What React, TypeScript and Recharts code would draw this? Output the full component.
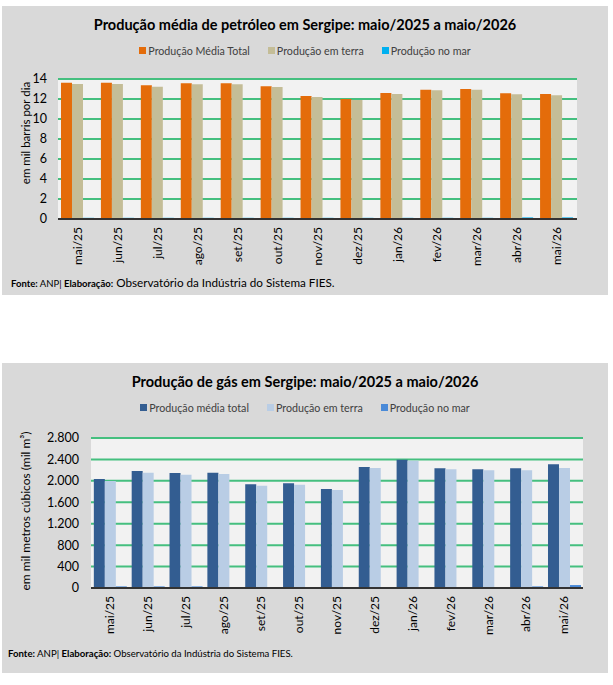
import React from "react";
import { BarChart, Bar, XAxis, YAxis, CartesianGrid, Legend } from "recharts";

const months = ["mai/25", "jun/25", "jul/25", "ago/25", "set/25", "out/25", "nov/25", "dez/25", "jan/26", "fev/26", "mar/26", "abr/26", "mai/26"];

// petróleo (mil barris por dia)
const oilTotal = [13.63, 13.63, 13.37, 13.57, 13.57, 13.27, 12.3, 12.0, 12.6, 12.93, 13.0, 12.57, 12.5];
const oilLand = [13.5, 13.5, 13.23, 13.47, 13.47, 13.2, 12.2, 11.9, 12.5, 12.87, 12.93, 12.47, 12.37];
const oilSea = [0.12, 0.12, 0.12, 0.12, 0.12, 0.12, 0.12, 0.12, 0.12, 0.12, 0.12, 0.16, 0.16];
const oilTicks = [0, 2, 4, 6, 8, 10, 12, 14];

// gás (mil m³)
const gasTotal = [2035, 2184, 2147, 2153, 1935, 1954, 1848, 2259, 2395, 2234, 2215, 2234, 2308];
const gasLand = [1997, 2153, 2116, 2128, 1910, 1929, 1829, 2240, 2377, 2215, 2196, 2196, 2240];
const gasSea = [30, 30, 30, 10, 10, 10, 10, 10, 10, 10, 10, 30, 55];
const gasTicks = [0, 400, 800, 1200, 1600, 2000, 2400, 2800];

const oilData = months.map((m, i) => ({ m, total: oilTotal[i], terra: oilLand[i], mar: oilSea[i] }));
const gasData = months.map((m, i) => ({ m, total: gasTotal[i], terra: gasLand[i], mar: gasSea[i] }));

const FONT = "Lato, 'Open Sans', sans-serif";
const GRID = "#45BF7F";
const PANEL = "#D9D9D9";

const fmt = (v: number) => String(v).replace(/\B(?=(\d{3})+(?!\d))/g, ".");

const MonthTick = ({ x, y, payload }: any) => (
  <text
    x={x}
    y={y}
    transform={`rotate(-90 ${x} ${y})`}
    textAnchor="end"
    dy="0.35em"
    fontSize={12}
    fill="#000"
    fontFamily={FONT}
  >
    {payload.value}
  </text>
);

const legendContent = (props: any) => (
  <div style={{ display: "flex", justifyContent: "center", fontFamily: FONT, fontSize: 10.7, color: "#404040" }}>
    {props.payload.map((p: any, i: number) => (
      <span key={i} style={{ display: "flex", alignItems: "center", marginLeft: i ? 18 : 0 }}>
        <span style={{ width: 7, height: 7, background: p.color, marginRight: 2, display: "inline-block" }} />
        {p.value}
      </span>
    ))}
  </div>
);

const Title = ({ text, top }: { text: string; top: number }) => (
  <div
    style={{
      position: "absolute",
      left: 0,
      width: "100%",
      top,
      textAlign: "center",
      fontFamily: FONT,
      fontWeight: 700,
      fontSize: 14.5,
      color: "#000",
      zIndex: 2,
    }}
  >
    {text}
  </div>
);

export default function App() {
  return (
    <div style={{ position: "absolute", left: 0, top: 0, width: 613, height: 685, background: "#fff" }}>
      {/* petróleo */}
      <div style={{ position: "absolute", left: 2, top: 6, width: 606, height: 289, background: PANEL }}>
        <Title text="Produção média de petróleo em Sergipe: maio/2025 a maio/2026" top={10} />
        <BarChart
          width={606}
          height={289}
          data={oilData}
          margin={{ top: 73, right: 31, left: 16, bottom: 26 }}
          barCategoryGap="7.5%"
          barGap={0}
        >
          <CartesianGrid vertical={false} stroke={GRID} strokeWidth={2} fill="#F2F2F2" />
          <XAxis
            dataKey="m"
            interval={0}
            height={50}
            tick={<MonthTick />}
            tickLine={false}
            axisLine={{ stroke: "#333", strokeWidth: 2 }}
          />
          <YAxis
            width={40}
            domain={[0, 14]}
            ticks={oilTicks}
            interval={0}
            axisLine={false}
            tickLine={false}
            tickMargin={5}
            tick={{ fontSize: 12.5, fill: "#000", fontFamily: FONT }}
            label={{
              content: () => (
                <text
                  x={23}
                  y={127}
                  transform="rotate(-90 23 127)"
                  textAnchor="middle"
                  dominantBaseline="central"
                  fontSize={11.5}
                  fontFamily={FONT}
                  fill="#000"
                >
                  em mil barris por dia
                </text>
              ),
            }}
          />
          <Legend
            verticalAlign="middle"
            align="center"
            itemSorter={null as any}
            content={legendContent}
            wrapperStyle={{ top: 38, left: 0, width: 606 }}
          />
          <Bar dataKey="total" name="Produção Média Total" fill="#E46C0A" isAnimationActive={false} />
          <Bar dataKey="terra" name="Produção em terra" fill="#C4BD97" isAnimationActive={false} />
          <Bar dataKey="mar" name="Produção no mar" fill="#00B0F0" isAnimationActive={false} />
        </BarChart>
        <div style={{ position: "absolute", left: 9, top: 265, fontFamily: FONT, color: "#000", whiteSpace: "nowrap" }}>
          <b style={{ fontSize: 9.5 }}>Fonte:</b>
          <span style={{ fontSize: 9.5 }}> ANP| </span>
          <b style={{ fontSize: 9.5 }}>Elaboração:</b>
          <span style={{ fontSize: 11.7 }}> Observatório da Indústria do Sistema FIES.</span>
        </div>
      </div>

      {/* gás */}
      <div style={{ position: "absolute", left: 2, top: 363, width: 606, height: 310, background: PANEL }}>
        <Title text="Produção de gás em Sergipe: maio/2025 a maio/2026" top={10} />
        <BarChart
          width={606}
          height={310}
          data={gasData}
          margin={{ top: 75, right: 25, left: 30, bottom: 35 }}
          barCategoryGap="7.5%"
          barGap={0}
        >
          <CartesianGrid vertical={false} stroke={GRID} strokeWidth={2} fill="#F2F2F2" />
          <XAxis
            dataKey="m"
            interval={0}
            height={50}
            tick={<MonthTick />}
            tickLine={false}
            axisLine={{ stroke: "#333", strokeWidth: 2 }}
          />
          <YAxis
            width={59}
            domain={[0, 2800]}
            ticks={gasTicks}
            interval={0}
            axisLine={false}
            tickLine={false}
            tickMargin={6}
            tickFormatter={fmt}
            tick={{ fontSize: 12.5, fill: "#000", fontFamily: FONT }}
            label={{
              content: () => (
                <text
                  x={23}
                  y={148}
                  transform="rotate(-90 23 148)"
                  textAnchor="middle"
                  dominantBaseline="central"
                  fontSize={12}
                  fontFamily={FONT}
                  fill="#000"
                >
                  em mil metros cúbicos (mil m³)
                </text>
              ),
            }}
          />
          <Legend
            verticalAlign="middle"
            align="center"
            itemSorter={null as any}
            content={legendContent}
            wrapperStyle={{ top: 38, left: 0, width: 606 }}
          />
          <Bar dataKey="total" name="Produção média total" fill="#335D91" isAnimationActive={false} />
          <Bar dataKey="terra" name="Produção em terra" fill="#B9CDE5" isAnimationActive={false} />
          <Bar dataKey="mar" name="Produção no mar" fill="#4A8AD8" isAnimationActive={false} />
        </BarChart>
        <div style={{ position: "absolute", left: 6, top: 285, fontFamily: FONT, fontSize: 9.6, color: "#000", whiteSpace: "nowrap" }}>
          <b>Fonte:</b> ANP| <b>Elaboração:</b> Observatório da Indústria do Sistema FIES.
        </div>
      </div>
    </div>
  );
}
